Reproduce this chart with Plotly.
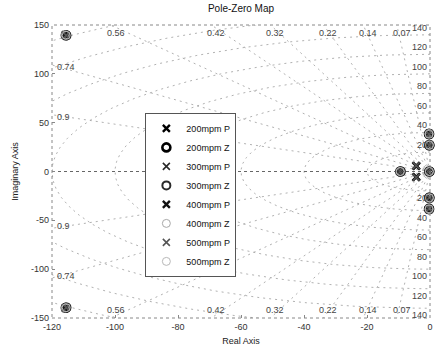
import numpy as np
import plotly.graph_objects as go

# Pole / zero locations for each speed setting
speeds = ["200mpm", "300mpm", "400mpm", "500mpm"]

pole_re = {
    "200mpm": [-115.6, -115.6, -4.4, -4.4, -9.4, -0.3, -0.3, -0.2, -0.2, -0.2],
    "300mpm": [-115.4, -115.4, -4.5, -4.5, -9.3, -0.3, -0.3, -0.2, -0.2, -0.2],
    "400mpm": [-115.8, -115.8, -4.3, -4.3, -9.5, -0.3, -0.3, -0.2, -0.2, -0.2],
    "500mpm": [-115.5, -115.5, -4.4, -4.4, -9.4, -0.3, -0.3, -0.2, -0.2, -0.2],
}
pole_im = {
    "200mpm": [139.5, -139.5, 5.8, -5.8, 0.0, 38.5, -38.5, 27.0, -27.0, 0.0],
    "300mpm": [139.2, -139.2, 6.0, -6.0, 0.0, 38.0, -38.0, 26.6, -26.6, 0.0],
    "400mpm": [139.8, -139.8, 5.6, -5.6, 0.0, 39.0, -39.0, 27.4, -27.4, 0.0],
    "500mpm": [139.4, -139.4, 5.9, -5.9, 0.0, 38.2, -38.2, 26.8, -26.8, 0.0],
}
zero_re = {
    "200mpm": [-115.6, -115.6, -9.4, -0.3, -0.3, -0.2, -0.2, -0.2],
    "300mpm": [-115.4, -115.4, -9.3, -0.3, -0.3, -0.2, -0.2, -0.2],
    "400mpm": [-115.8, -115.8, -9.5, -0.3, -0.3, -0.2, -0.2, -0.2],
    "500mpm": [-115.5, -115.5, -9.4, -0.3, -0.3, -0.2, -0.2, -0.2],
}
zero_im = {
    "200mpm": [139.5, -139.5, 0.0, 38.5, -38.5, 27.0, -27.0, 0.0],
    "300mpm": [139.2, -139.2, 0.0, 38.0, -38.0, 26.6, -26.6, 0.0],
    "400mpm": [139.8, -139.8, 0.0, 39.0, -39.0, 27.4, -27.4, 0.0],
    "500mpm": [139.4, -139.4, 0.0, 38.2, -38.2, 26.8, -26.8, 0.0],
}

# Grid values (damping ratios and natural frequencies)
zetas = [0.07, 0.14, 0.22, 0.32, 0.42, 0.56, 0.74, 0.9]
wns = [20, 40, 60, 80, 100, 120, 140, 160, 180]
wn_labels = [20, 40, 60, 80, 100, 120, 140]

x_tick_vals = [-120, -100, -80, -60, -40, -20, 0]
x_tick_text = ["-120", "-100", "-80", "-60", "-40", "-20", "0"]
y_tick_vals = [-150, -100, -50, 0, 50, 100, 150]
y_tick_text = ["-150", "-100", "-50", "0", "50", "100", "150"]

XMIN, XMAX, YMIN, YMAX = -120, 0, -150, 150
GRID = "#a8a8a8"
GRID_DASH = "2px,4px"
LBL = "#444444"
FONT = "Liberation Sans, Arial, sans-serif"

fig = go.Figure()

# damping-ratio rays
rx, ry = [], []
for z in zetas:
    slope = np.sqrt(1 - z * z) / z
    for sgn in (1, -1):
        xe = max(XMIN, -YMAX / slope)
        rx += [0, xe, None]
        ry += [0, sgn * (-xe) * slope, None]
fig.add_trace(go.Scatter(x=rx, y=ry, mode="lines", showlegend=False,
                         line=dict(color=GRID, width=0.9, dash=GRID_DASH),
                         hoverinfo="skip"))

# natural-frequency circles (left half plane)
th = np.linspace(np.pi / 2, 3 * np.pi / 2, 400)
cx, cy = [], []
for w in wns:
    cx += list(w * np.cos(th)) + [None]
    cy += list(w * np.sin(th)) + [None]
fig.add_trace(go.Scatter(x=cx, y=cy, mode="lines", showlegend=False,
                         line=dict(color=GRID, width=0.9, dash=GRID_DASH),
                         hoverinfo="skip"))

# real axis
fig.add_trace(go.Scatter(x=[XMIN, XMAX], y=[0, 0], mode="lines", showlegend=False,
                         line=dict(color="#666666", width=1, dash="dot"),
                         hoverinfo="skip"))

# marker styles for each speed
styles = {
    "200mpm": dict(p=("#000000", 2.4), z=("#000000", 2.6)),
    "300mpm": dict(p=("#2a2a2a", 1.6), z=("#2a2a2a", 2.0)),
    "400mpm": dict(p=("#111111", 2.4), z=("#a8a8a8", 1.0)),
    "500mpm": dict(p=("#555555", 1.6), z=("#b8b8b8", 1.0)),
}

for s in speeds:
    pc, pw = styles[s]["p"]
    fig.add_trace(go.Scatter(
        x=pole_re[s], y=pole_im[s], mode="markers", name=f"{s} P",
        cliponaxis=False,
        marker=dict(symbol="x-thin-open", size=7, color=pc,
                    line=dict(color=pc, width=pw))))
    zc, zw = styles[s]["z"]
    fig.add_trace(go.Scatter(
        x=zero_re[s], y=zero_im[s], mode="markers", name=f"{s} Z",
        cliponaxis=False,
        marker=dict(symbol="circle-open", size=8, color=zc,
                    line=dict(color=zc, width=zw))))

ann = []
# damping labels
for z in zetas:
    slope = np.sqrt(1 - z * z) / z
    xc = -YMAX / slope
    if xc >= XMIN:
        for yy, anc, sh in ((YMAX, "top", -1), (YMIN, "bottom", 1)):
            ann.append(dict(x=xc, y=yy, text=f"{z:g}", showarrow=False,
                            xanchor="center", yanchor=anc, xshift=5, yshift=sh,
                            font=dict(size=9, color=LBL, family=FONT)))
    else:
        yc = -XMIN * slope
        for yy in (yc, -yc):
            ann.append(dict(x=XMIN, y=yy, text=f"{z:g}", showarrow=False,
                            xanchor="left", yanchor="middle", xshift=3,
                            yshift=-2 if yy > 0 else 2,
                            font=dict(size=9, color=LBL, family=FONT)))
# natural frequency labels
for w in wn_labels:
    for yy, anc in ((w, "bottom"), (-w, "top")):
        ann.append(dict(x=0, y=yy, text=str(w), showarrow=False,
                        xanchor="right", yanchor=anc, xshift=-1,
                        font=dict(size=9, color=LBL, family=FONT)))

fig.update_layout(
    width=438, height=353,
    margin=dict(l=52, r=5, t=25, b=35),
    paper_bgcolor="white", plot_bgcolor="white",
    font=dict(family=FONT, size=9, color="#222222"),
    title=dict(text="Pole-Zero Map", x=0.5, xref="paper", y=0.985, yanchor="top",
               font=dict(size=10, color="#111111", family=FONT)),
    xaxis=dict(range=[XMIN, XMAX], tickvals=x_tick_vals, ticktext=x_tick_text,
               showgrid=False, zeroline=False, showline=False, ticks="inside",
               ticklen=3, tickcolor="#888888", ticklabelstandoff=2,
               tickfont=dict(color="#333333"),
               title=dict(text="Real Axis", standoff=6, font=dict(size=9))),
    yaxis=dict(range=[YMIN, YMAX], tickvals=y_tick_vals, ticktext=y_tick_text,
               showgrid=False, zeroline=False, showline=False, ticks="inside",
               ticklen=3, tickcolor="#888888", ticklabelstandoff=2,
               tickfont=dict(color="#333333"),
               title=dict(text="Imaginary Axis", standoff=10, font=dict(size=9))),
    legend=dict(x=0.247, y=0.70, xanchor="left", yanchor="top",
                bgcolor="white", bordercolor="#555555", borderwidth=1,
                font=dict(size=9, color="#111111", family=FONT),
                tracegroupgap=0, itemwidth=30),
    annotations=ann,
    shapes=[dict(type="rect", xref="paper", yref="paper", x0=0, x1=1, y0=0, y1=1,
                 line=dict(color="#888888", width=1, dash="dot"))],
)

fig.write_html("out.html")
